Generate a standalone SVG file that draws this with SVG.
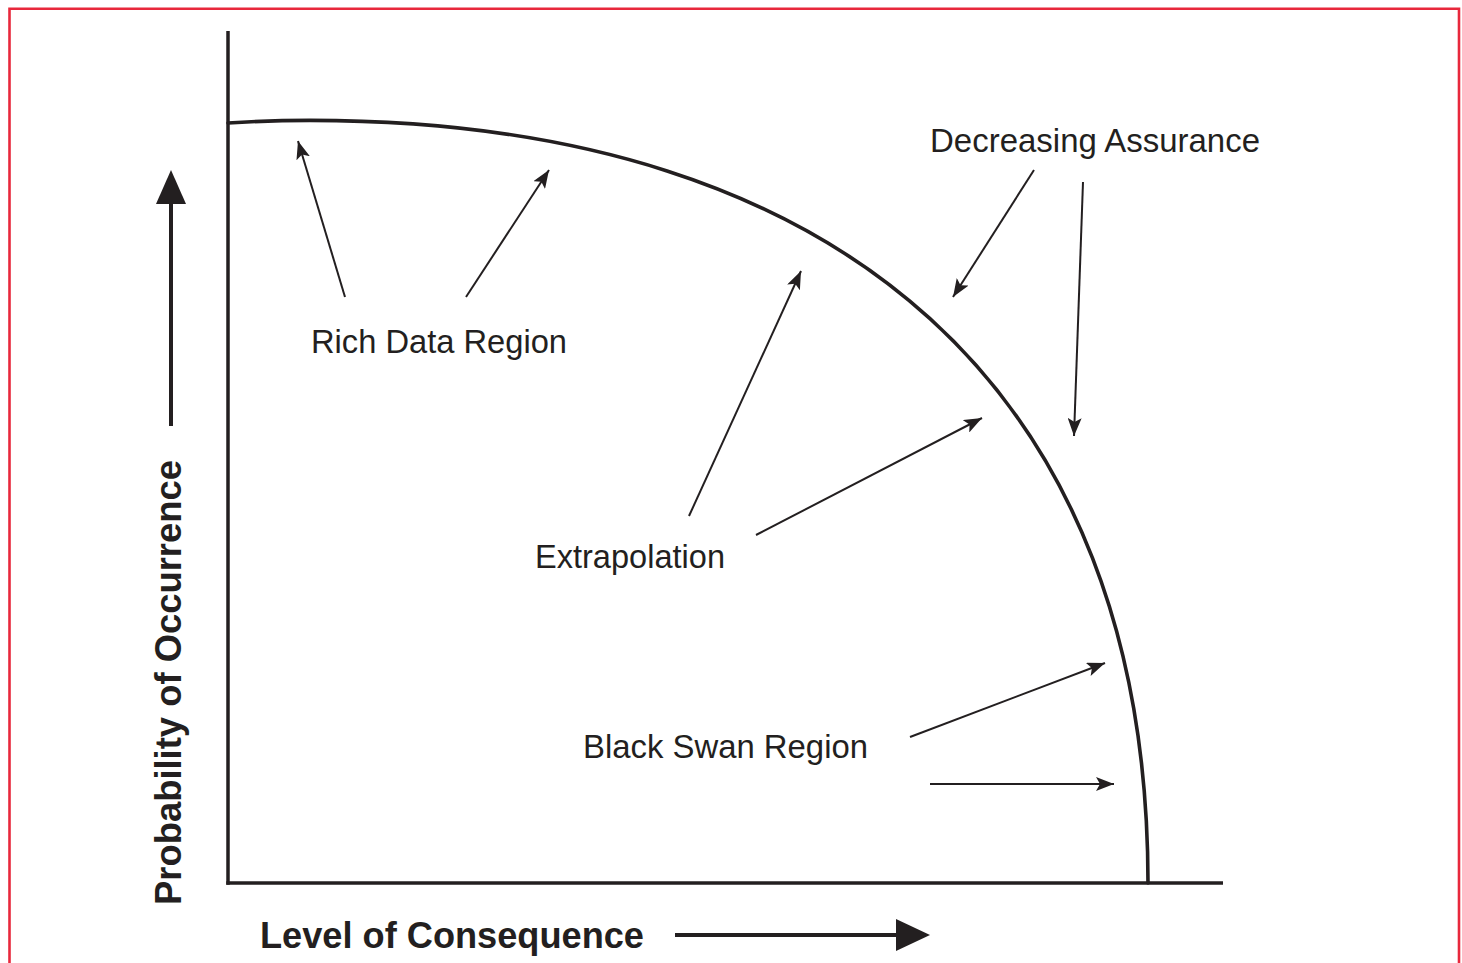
<svg xmlns="http://www.w3.org/2000/svg" width="1462" height="963" viewBox="0 0 1462 963">
  <style>
    .frame { fill: none; stroke: #e8283c; stroke-width: 2.6; }
    .axis { fill: none; stroke: #231f20; stroke-width: 3.5; }
    .curve { fill: none; stroke: #231f20; stroke-width: 3.6; stroke-linecap: round; stroke-linejoin: round; }
    .ptr { fill: none; stroke: #231f20; stroke-width: 2; marker-end: url(#head); }
    .bigline { fill: none; stroke: #231f20; stroke-width: 4; }
    .bighead { fill: #231f20; }
    .lbl { font-family: "Liberation Sans", Arial, sans-serif; font-size: 33px; fill: #231f20; }
    .axlbl { font-family: "Liberation Sans", Arial, sans-serif; font-size: 36px; font-weight: bold; fill: #231f20; }
  </style>
  <defs>
    <marker id="head" markerUnits="userSpaceOnUse" markerWidth="18" markerHeight="14" refX="18" refY="7" orient="auto" viewBox="0 0 18 14">
      <path d="M0,0 L18,7 L0,14 L4,7 Z" fill="#231f20"/>
    </marker>
  </defs>

  <rect width="1462" height="963" fill="#ffffff"/>

  <!-- outer frame, open at the bottom -->
  <path class="frame" d="M9.5,1000 V8.7 H1459 V1000"/>

  <!-- axes -->
  <g id="axes">
    <line class="axis" x1="228" y1="31" x2="228" y2="884.7"/>
    <line class="axis" x1="226.3" y1="883" x2="1223" y2="883"/>
  </g>

  <!-- boundary of the assured region (squarish quarter ellipse) -->
  <g id="boundary">
    <path class="curve" d="M228,123 C255,121.3 282,120.4 310,120.4 C846,120.4 1148,395 1148,883"/>
  </g>

  <!-- axis direction arrows -->
  <g id="y-direction">
    <line class="bigline" x1="171" y1="426" x2="171" y2="200"/>
    <path class="bighead" d="M171,170 L186,204 L156,204 Z"/>
  </g>
  <g id="x-direction">
    <line class="bigline" x1="675" y1="935" x2="900" y2="935"/>
    <path class="bighead" d="M930,935 L896,951 L896,919 Z"/>
  </g>

  <!-- axis titles -->
  <g id="y-title">
    <text class="axlbl" transform="translate(181,905) rotate(-90)" textLength="445" lengthAdjust="spacingAndGlyphs">Probability of Occurrence</text>
  </g>
  <g id="x-title">
    <text class="axlbl" x="260" y="948" textLength="384" lengthAdjust="spacingAndGlyphs">Level of Consequence</text>
  </g>

  <!-- region labels -->
  <g id="rich-data">
    <text class="lbl" x="311" y="353" textLength="256" lengthAdjust="spacingAndGlyphs">Rich Data Region</text>
  </g>
  <g id="extrapolation">
    <text class="lbl" x="535" y="568" textLength="190" lengthAdjust="spacingAndGlyphs">Extrapolation</text>
  </g>
  <g id="decreasing-assurance">
    <text class="lbl" x="930" y="152" textLength="330" lengthAdjust="spacingAndGlyphs">Decreasing Assurance</text>
  </g>
  <g id="black-swan">
    <text class="lbl" x="583" y="758" textLength="285" lengthAdjust="spacingAndGlyphs">Black Swan Region</text>
  </g>

  <!-- pointers from labels to the boundary -->
  <g id="connectors">
    <line class="ptr" x1="345" y1="297" x2="298" y2="141"/>
    <line class="ptr" x1="466" y1="297" x2="549" y2="170"/>
    <line class="ptr" x1="689" y1="516" x2="801" y2="271"/>
    <line class="ptr" x1="756" y1="535" x2="982" y2="418"/>
    <line class="ptr" x1="1034" y1="170" x2="953" y2="297"/>
    <line class="ptr" x1="1083" y1="182" x2="1074" y2="436"/>
    <line class="ptr" x1="910" y1="737" x2="1105" y2="663"/>
    <line class="ptr" x1="930" y1="784" x2="1114" y2="784"/>
  </g>
</svg>
